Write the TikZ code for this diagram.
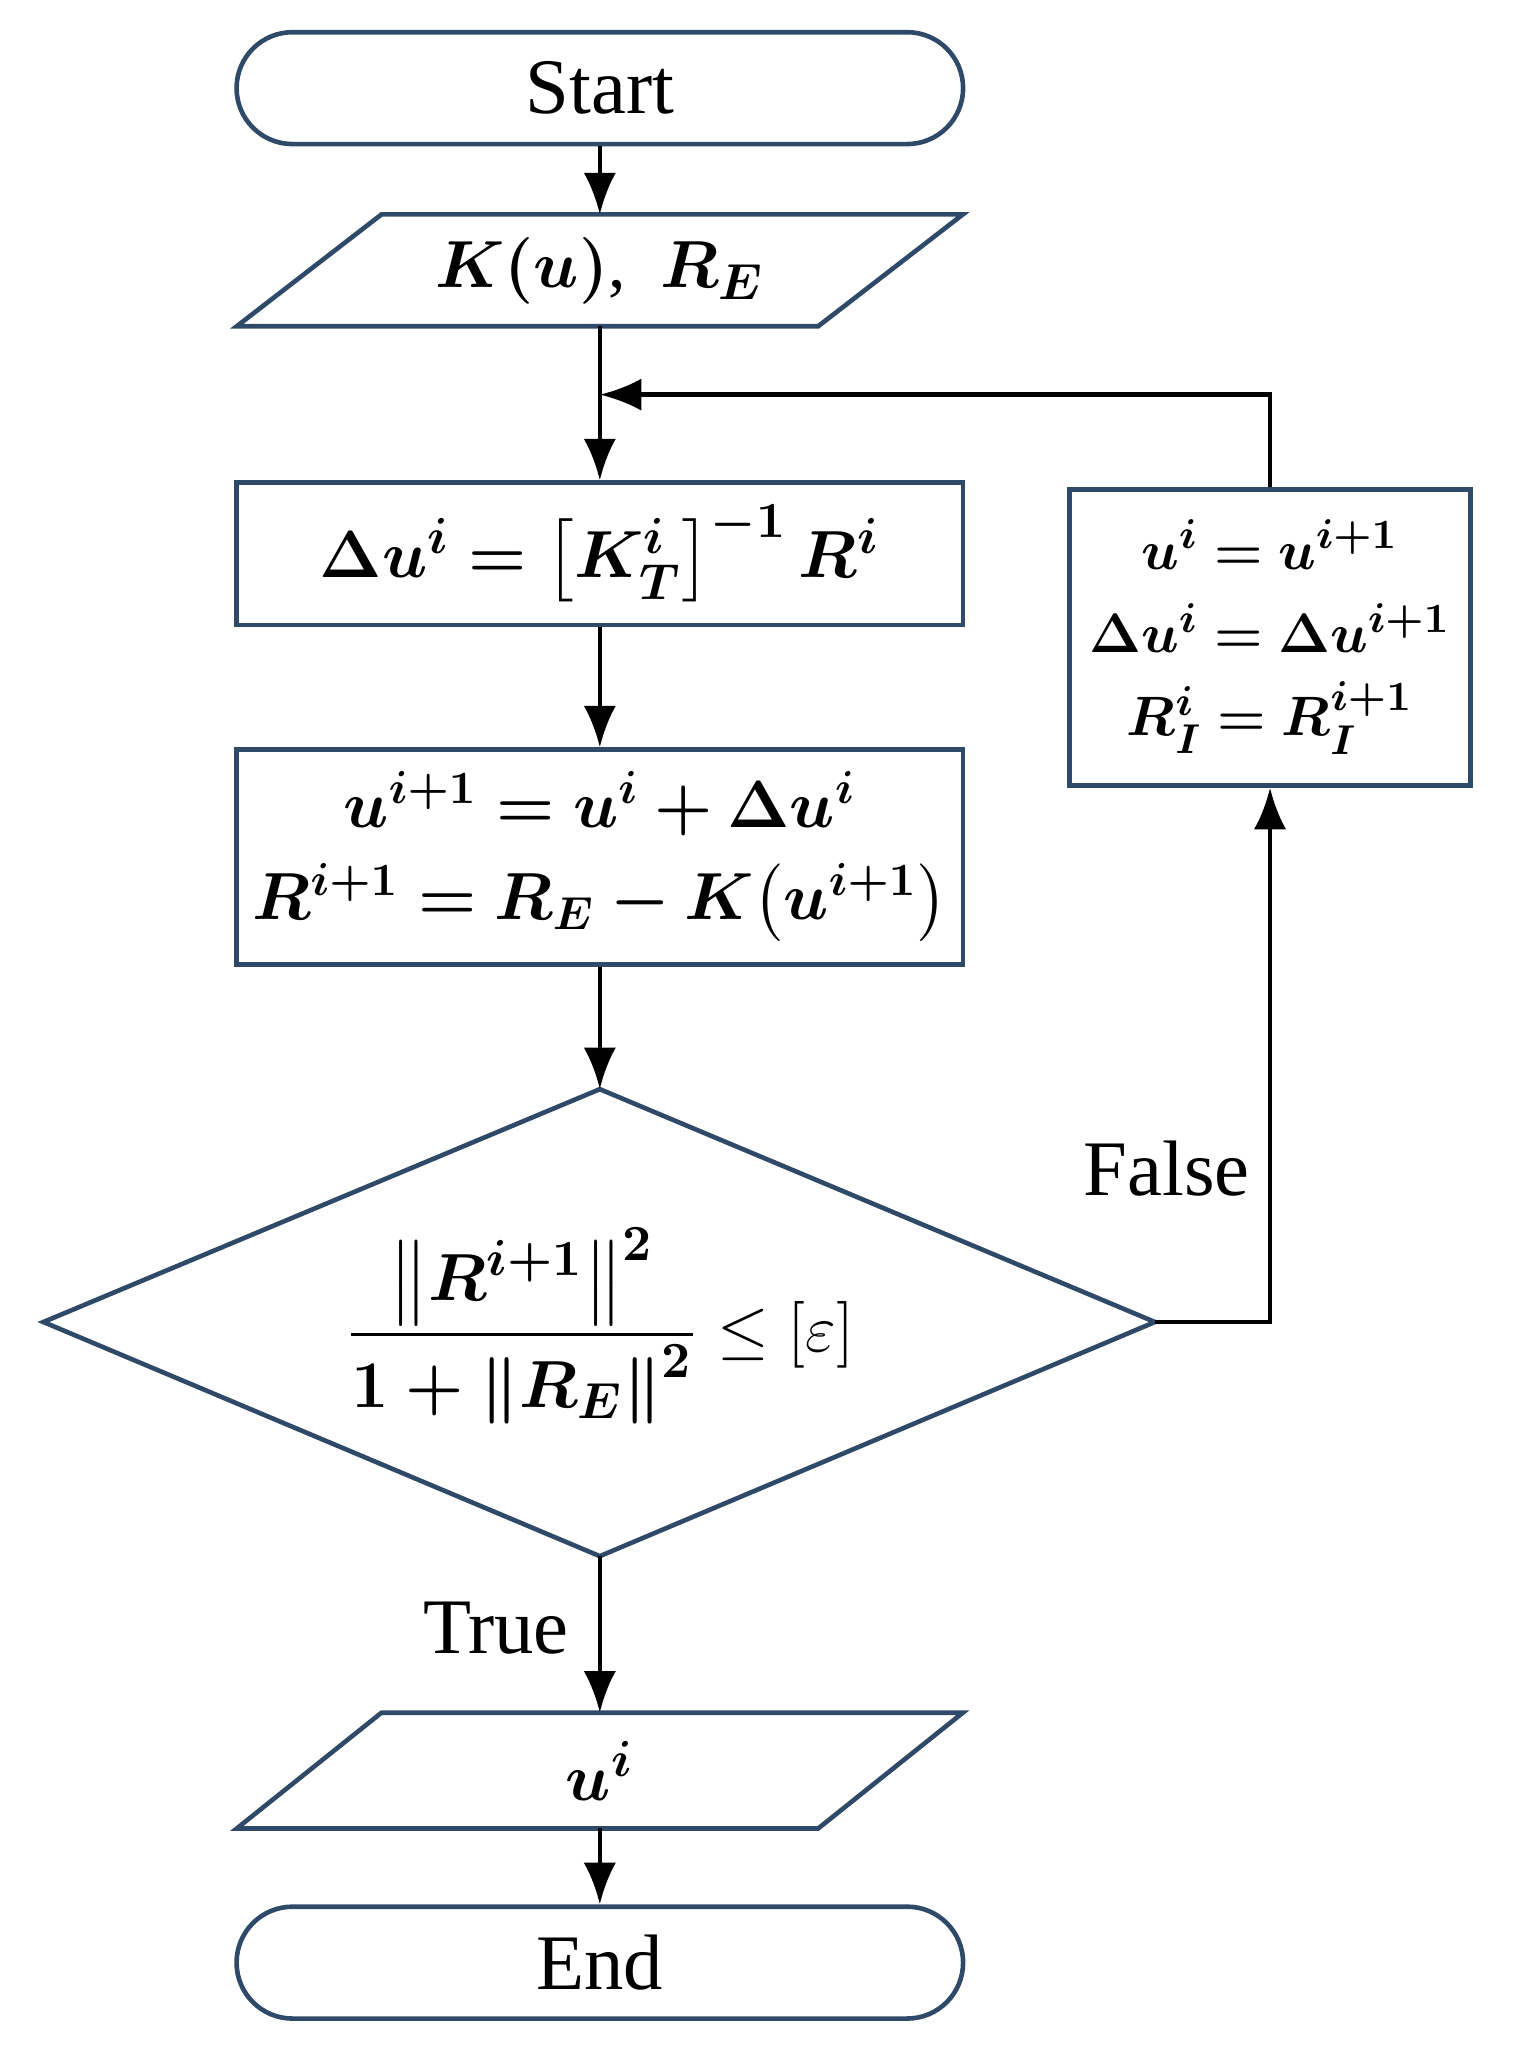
\documentclass[tikz,border=0pt]{standalone}
\usepackage{fontspec}
\setmainfont{Liberation Serif}
\usepackage{amsmath,amssymb,bm}
\usetikzlibrary{arrows.meta,shapes.misc}
\definecolor{bd}{HTML}{2F4A68}
\begin{document}
\begin{tikzpicture}[x=0.01cm,y=-0.01cm,
  box/.style={draw=bd,line width=1pt,inner sep=0pt},
  arr/.style={-{Latex[length=9pt,width=7pt]},line width=1pt,black},
  txt/.style={font=\fontsize{17}{21}\selectfont,align=center},
  mth/.style={font=\fontsize{15}{21}\selectfont,align=center}]
\useasboundingbox (0,0) rectangle (1150,1563);
% Start
\node[box,rounded rectangle,minimum width=5.52cm,minimum height=0.85cm,txt] (start) at (456,67) {Start};
% input
\draw[box] (290,163) -- (732,163) -- (622,248) -- (180,248) -- cycle;
\node[mth] (in) at (456,206) {$\boldsymbol{K(u)}$,\ \ $\boldsymbol{R_E}$};
\coordinate (inT) at (456,163); \coordinate (inB) at (456,248);
% box1
\node[box,minimum width=5.52cm,minimum height=1.08cm,mth] (b1) at (456,421) {$\boldsymbol{\Delta u^i = \left[K_T^i\right]^{-1} R^i}$};
% box2
\node[box,minimum width=5.52cm,minimum height=1.63cm,font=\fontsize{14}{22}\selectfont,align=center] (b2) at (456,651.5) {$\boldsymbol{u^{i+1} = u^i + \Delta u^i}$\\[-2pt]$\boldsymbol{R^{i+1} = R_E - K\big(u^{i+1}\big)}$};
% diamond
\draw[box] (456,828) -- (878,1005) -- (456,1183) -- (33,1005) -- cycle;
\coordinate (dT) at (456,828); \coordinate (dB) at (456,1183); \coordinate (dR) at (878,1005);
\node[mth] (cond) at (456,1008) {$\boldsymbol{\dfrac{\left\|R^{i+1}\right\|^2}{1+\left\|R_E\right\|^2}} \le [\varepsilon]$};
% update box
\node[box,minimum width=3.05cm,minimum height=2.25cm,font=\fontsize{13}{19}\selectfont,align=center] (up) at (965.5,484.5) {$\boldsymbol{u^i = u^{i+1}}$\\[-1pt]$\boldsymbol{\Delta u^i = \Delta u^{i+1}}$\\[-1pt]$\boldsymbol{R_I^i = R_I^{i+1}}$};
% output
\draw[box] (290,1302) -- (732,1302) -- (622,1390) -- (180,1390) -- cycle;
\node[mth] (out) at (456,1346) {$\boldsymbol{u^i}$};
\coordinate (oT) at (456,1302); \coordinate (oB) at (456,1390);
% End
\node[box,rounded rectangle,minimum width=5.52cm,minimum height=0.85cm,txt] (end) at (456,1492) {End};
% connectors
\draw[arr] (start.south) -- (inT);
\draw[arr] (inB) -- (b1.north);
\draw[arr] (b1.south) -- (b2.north);
\draw[arr] (b2.south) -- (dT);
\draw[arr] (dB) -- (oT);
\draw[arr] (oB) -- (end.north);
\coordinate (lp) at (456,300);
\draw[arr] (up.north) |- (lp);
\draw[arr] (dR) -| (up.south);
\node[txt] (fl) at (887,888) {False};
\node[txt] (tl) at (377,1238) {True};
\end{tikzpicture}
\end{document}
